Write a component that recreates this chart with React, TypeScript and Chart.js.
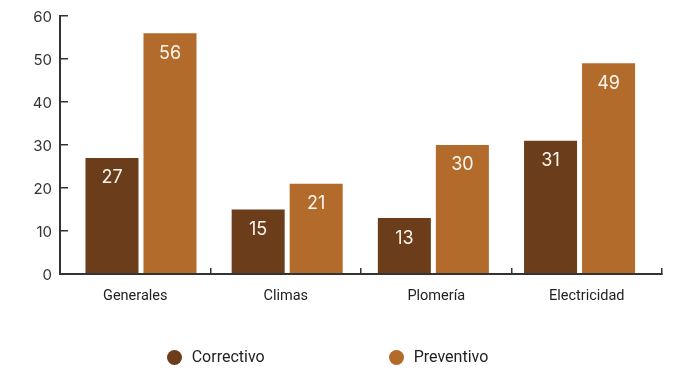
import React, { useEffect, useRef } from 'react';
import { Chart, registerables } from 'chart.js';

Chart.register(...registerables);

const categories = ['Generales', 'Climas', 'Plomería', 'Electricidad'];
const correctivo = [27, 15, 13, 31];
const preventivo = [56, 21, 30, 49];
const yTicks = [0, 10, 20, 30, 40, 50, 60];
const seriesNames = ['Correctivo', 'Preventivo'];
const seriesColors = ['#6B3D1A', '#B26B2B'];

const FONT_NUM = 'Inter, "DejaVu Sans", sans-serif';
const FONT_TXT = 'Roboto, "Liberation Sans", sans-serif';

const valueLabels = {
  id: 'valueLabels',
  afterDatasetsDraw(chart: any) {
    const ctx = chart.ctx;
    ctx.save();
    ctx.font = `400 18px ${FONT_NUM}`;
    ctx.fillStyle = '#FBF6EF';
    ctx.textAlign = 'center';
    ctx.textBaseline = 'middle';
    chart.data.datasets.forEach((ds: any, di: number) => {
      const meta = chart.getDatasetMeta(di);
      meta.data.forEach((el: any, i: number) => {
        const v = ds.data[i].y;
        ctx.fillText(String(v), el.x, el.y + 20);
      });
    });
    ctx.restore();
  },
};

export default function App() {
  const ref = useRef<HTMLCanvasElement>(null);

  useEffect(() => {
    if (!ref.current) return;
    const series = [correctivo, preventivo];
    const chart = new Chart(ref.current, {
      type: 'bar',
      data: {
        labels: categories,
        datasets: seriesNames.map((name, k) => ({
          label: name,
          data: series[k].map((v, i) => ({ x: i, y: v })),
          backgroundColor: seriesColors[k],
          borderWidth: 0,
          xAxisID: 'xb',
          yAxisID: 'y',
          categoryPercentage: 0.7936,
          barPercentage: 0.914,
        })),
      } as any,
      options: {
        animation: false,
        responsive: false,
        devicePixelRatio: 1,
        layout: { padding: { top: 16, right: 17, left: 0, bottom: 0 } },
        plugins: {
          legend: { display: false },
          tooltip: { enabled: false },
        },
        scales: {
          x: {
            type: 'category',
            position: 'bottom',
            offset: true,
            grid: {
              offset: true,
              drawOnChartArea: false,
              tickLength: -6,
              color: '#333',
              lineWidth: 1.5,
              z: 1,
            },
            border: { color: '#333', width: 2, z: 1 },
            ticks: {
              padding: 20,
              color: '#222',
              font: { family: FONT_TXT, size: 14.5 },
              maxRotation: 0,
              autoSkip: false,
            },
            afterFit: (s: any) => {
              s.height = 96;
              s.paddingLeft = 0;
              s.paddingRight = 0;
            },
          },
          xb: {
            type: 'linear',
            position: 'bottom',
            display: false,
            offset: false,
            min: -0.554,
            max: 3.564,
            afterBuildTicks: (s: any) => {
              s.ticks = categories.map((_, i) => ({ value: i }));
            },
          },
          y: {
            type: 'linear',
            min: 0,
            max: 60,
            ticks: {
              stepSize: 10,
              padding: 16,
              color: '#333',
              font: { family: FONT_NUM, size: 15 },
              labelOffset: 1,
            },
            afterBuildTicks: (s: any) => {
              s.ticks = yTicks.map((v) => ({ value: v }));
            },
            grid: {
              drawOnChartArea: false,
              tickLength: -8,
              color: '#333',
              lineWidth: 1.5,
            },
            border: { color: '#333', width: 2, z: 1 },
            afterFit: (s: any) => {
              s.width = 60;
              s.paddingTop = 0;
              s.paddingBottom = 0;
            },
          },
        },
      } as any,
      plugins: [valueLabels],
    });
    return () => chart.destroy();
  }, []);

  return (
    <div
      style={{
        position: 'fixed',
        left: 0,
        top: 0,
        width: 679,
        height: 370,
        background: '#fff',
      }}
    >
      <canvas ref={ref} width={679} height={370} style={{ display: 'block', width: 679, height: 370 }} />
      <div
        style={{
          position: 'absolute',
          left: 0,
          top: 347,
          width: 655,
          height: 20,
          display: 'flex',
          justifyContent: 'center',
          alignItems: 'center',
          gap: 124,
          fontFamily: FONT_TXT,
          fontSize: 16,
          color: '#222',
        }}
      >
        {seriesNames.map((n, k) => (
          <div key={n} style={{ display: 'flex', alignItems: 'center' }}>
            <span
              style={{
                display: 'inline-block',
                width: 15,
                height: 15,
                borderRadius: '50%',
                background: seriesColors[k],
                marginRight: 10,
              }}
            />
            <span style={{ lineHeight: '20px' }}>{n}</span>
          </div>
        ))}
      </div>
    </div>
  );
}
